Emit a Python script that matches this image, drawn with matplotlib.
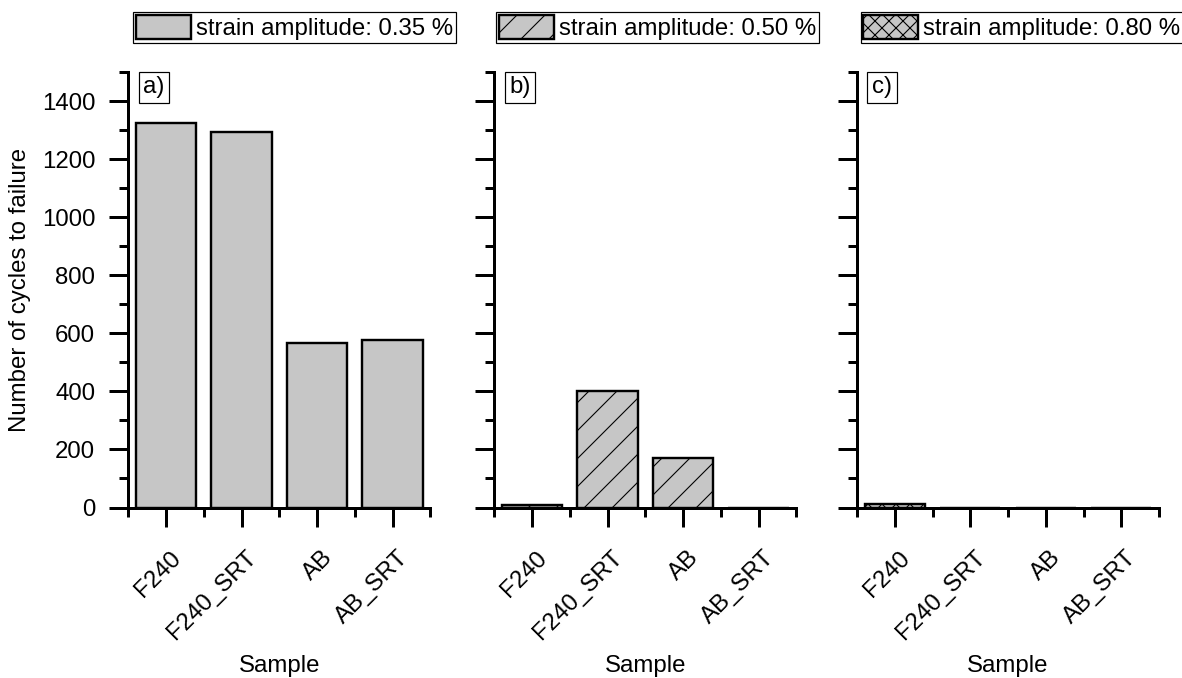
import matplotlib
matplotlib.use("Agg")
import matplotlib.pyplot as plt
from matplotlib.ticker import FixedLocator, MultipleLocator
from matplotlib.transforms import ScaledTranslation

# data
samples = ["F240", "F240_SRT", "AB", "AB_SRT"]
cycles_035 = [1325, 1295, 567, 576]
cycles_050 = [9, 401, 169, 0]
cycles_080 = [13, 0, 0, 0]
amplitudes = ["0.35", "0.50", "0.80"]
panel_tags = ["a)", "b)", "c)"]
hatches = [None, "//", "xxxx"]

W, H, DPI = 1182, 678, 168


def pt(px: float) -> float:
    return px * 72.0 / DPI


plt.rcParams["font.family"] = ["Liberation Sans", "DejaVu Sans"]
plt.rcParams["hatch.linewidth"] = pt(1.1)
FS_PX = 24
FS = pt(FS_PX)
GREY = "#c6c6c6"

fig = plt.figure(figsize=(W / DPI, H / DPI), dpi=DPI)

ax_left = [128.3, 494.3, 857.0]
ax_w, ax_top, ax_bot = 302.0, 72.0, 507.5
ax_h = ax_bot - ax_top
legend_left = [133.0, 496.0, 860.5]

series = [cycles_035, cycles_050, cycles_080]
positions = list(range(1, len(samples) + 1))

for i, (left, values) in enumerate(zip(ax_left, series)):
    ax = fig.add_axes([left / W, 1 - ax_bot / H, ax_w / W, ax_h / H])
    bars = ax.bar(positions, values, width=0.8, color=GREY, edgecolor="black",
                  linewidth=pt(2.4), hatch=hatches[i],
                  label=f"strain amplitude: {amplitudes[i]} %")
    ax.set_xlim(0.5, 4.5)
    ax.set_ylim(0, 1500)

    for side in ("top", "right"):
        ax.spines[side].set_visible(False)
    for side in ("left", "bottom"):
        ax.spines[side].set_linewidth(pt(3))

    ax.yaxis.set_major_locator(MultipleLocator(200))
    ax.yaxis.set_minor_locator(MultipleLocator(100))
    ax.xaxis.set_major_locator(FixedLocator(positions))
    ax.xaxis.set_minor_locator(FixedLocator([0.5, 1.5, 2.5, 3.5, 4.5]))
    ax.tick_params(which="major", direction="out", length=pt(19), width=pt(3),
                   labelsize=FS)
    ax.tick_params(which="minor", direction="out", length=pt(9), width=pt(3))
    ax.tick_params(axis="y", which="major", pad=pt(14))
    ax.tick_params(axis="x", which="major", pad=pt(28))

    ax.set_xticklabels(samples, rotation=45, ha="right", va="center",
                       rotation_mode="anchor")
    shift = ScaledTranslation(12 / DPI, 0, fig.dpi_scale_trans)
    for lab in ax.get_xticklabels():
        lab.set_transform(lab.get_transform() + shift)

    if i == 0:
        ax.set_ylabel("Number of cycles to failure", fontsize=FS)
        ax.yaxis.set_label_coords(-0.322, 0.5)
    else:
        ax.tick_params(axis="y", labelleft=False)

    ax.set_xlabel("Sample", fontsize=FS)
    ax.xaxis.set_label_coords(0.5, -0.338)

    ax.text(15 / ax_w, 1 - 4.5 / ax_h, panel_tags[i],
            transform=ax.transAxes, ha="left", va="top", fontsize=FS,
            bbox=dict(boxstyle="square,pad=0.19", facecolor="white",
                      edgecolor="black", linewidth=pt(1.2)))

    leg = fig.legend(handles=[bars], loc="upper left",
                     bbox_to_anchor=(legend_left[i] / W, 1 - 11.7 / H),
                     bbox_transform=fig.transFigure, borderaxespad=0,
                     fontsize=FS, fancybox=False, shadow=False, framealpha=1,
                     handlelength=55 / FS_PX, handleheight=28 / FS_PX,
                     handletextpad=0.2, borderpad=0.12)
    leg.get_frame().set_edgecolor("black")
    leg.get_frame().set_linewidth(pt(1.2))

fig.savefig("out.png", dpi=DPI)
